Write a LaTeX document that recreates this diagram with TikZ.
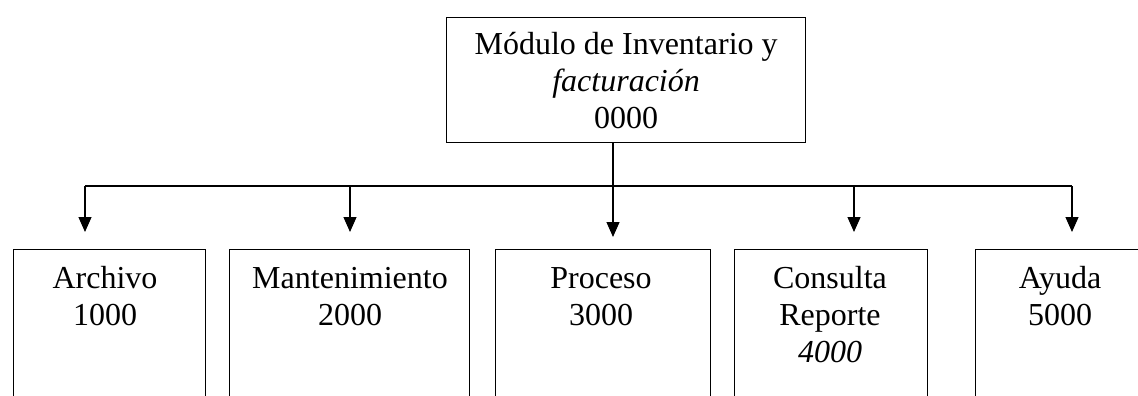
\documentclass[tikz,border=0pt]{standalone}
\usepackage{fontspec}
\setmainfont{Liberation Serif}
\usetikzlibrary{arrows.meta}
\begin{document}
\begin{tikzpicture}[x=1pt,y=-1pt,
  line width=1.2pt,
  boxnode/.style={draw, rectangle, inner sep=0pt, anchor=north west},
  txt/.style={align=center, inner sep=0pt, font=\fontsize{32}{37}\selectfont},
  arr/.style={-{Triangle[width=13pt,length=15pt]}}]
\useasboundingbox (0,0) rectangle (1138,396);
\clip (0,0) rectangle (1138,396);
% top box
\node[draw, rectangle, inner sep=0pt, minimum width=359pt, minimum height=125pt,
      txt, anchor=north west] (top) at (446,17)
  {M\'odulo de Inventario y\\ \textit{facturaci\'on}\\ 0000};
% lower boxes
\node[boxnode, minimum width=192pt, minimum height=200pt] (b1) at (13,249) {};
\node[boxnode, minimum width=240pt, minimum height=200pt] (b2) at (229,249) {};
\node[boxnode, minimum width=215pt, minimum height=200pt] (b3) at (495,249) {};
\node[boxnode, minimum width=193pt, minimum height=200pt] (b4) at (734,249) {};
\node[boxnode, minimum width=175pt, minimum height=200pt] (b5) at (975,249) {};
% labels
\node[txt, anchor=north] (l1) at (105,265) {\rule{0pt}{23pt}Archivo\\1000};
\node[txt, anchor=north] (l2) at (350,265) {\rule{0pt}{23pt}Mantenimiento\\2000};
\node[txt, anchor=north] (l3) at (601,265) {\rule{0pt}{23pt}Proceso\\3000};
\node[txt, anchor=north] (l4) at (830,265) {\rule{0pt}{23pt}Consulta\\Reporte\\\textit{4000}};
\node[txt, anchor=north] (l5) at (1060,265) {\rule{0pt}{23pt}Ayuda\\5000};
% connectors
\coordinate (bar) at (613,186);
\coordinate (t1) at (85,232);
\coordinate (t2) at (350,232);
\coordinate (t3) at (613,237);
\coordinate (t4) at (854,232);
\coordinate (t5) at (1072,232);
\draw (t1 |- bar) -- (t5 |- bar);
\draw[arr] (top.south -| t3) -- (t3);
\draw[arr] (t1 |- bar) -- (t1);
\draw[arr] (t2 |- bar) -- (t2);
\draw[arr] (t4 |- bar) -- (t4);
\draw[arr] (t5 |- bar) -- (t5);
\end{tikzpicture}
\end{document}
